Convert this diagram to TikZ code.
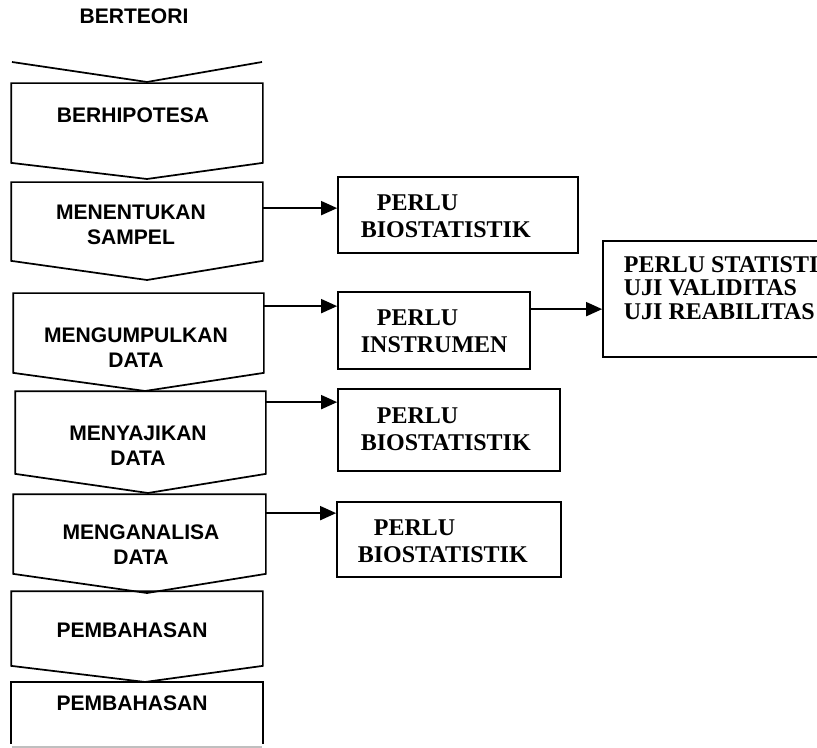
\documentclass[tikz,border=0pt]{standalone}
\usepackage{fontspec}
\setmainfont{Liberation Serif}
\newfontfamily\arialfont{Liberation Sans}
\usetikzlibrary{arrows.meta,positioning,fit,calc}

\begin{document}
\begin{tikzpicture}[x=0.75pt, y=-0.75pt, line width=1.3pt,
  steptext/.style={font=\arialfont\bfseries\fontsize{15.8}{18.75}\selectfont, align=center, inner sep=0pt},
  infotext/.style={font=\bfseries\fontsize{18}{20.5}\selectfont, align=left, inner sep=0pt, anchor=west},
  stepbox/.style={inner sep=0pt, draw=none},
  infobox/.style={draw, inner sep=0pt},
  arr/.style={-{Triangle[length=12pt,width=10.5pt]}}]

  \useasboundingbox (0,0) rectangle (817,748);

  % title and opening chevron
  \node[steptext] (teori) at (134,16) {BERTEORI};
  \draw (12,62) -- (147,82) -- (262,62);

  % left column: steps
  \node[stepbox, fit={(12,84) (262,162)}] (hipo) {};
  \draw (hipo.north west) -- (hipo.north east) -- (hipo.south east) -- (147,179) -- (hipo.south west) -- cycle;
  \node[steptext] (tHipo) at (133,115) {BERHIPOTESA};

  \node[stepbox, fit={(12,183) (262,260)}] (sampel) {};
  \draw (sampel.north west) -- (sampel.north east) -- (sampel.south east) -- (147,280) -- (sampel.south west) -- cycle;
  \node[steptext] (tSampel) at (131,224.5) {MENENTUKAN\\SAMPEL};

  \node[stepbox, fit={(14,294) (263,372)}] (kumpul) {};
  \draw (kumpul.north west) -- (kumpul.north east) -- (kumpul.south east) -- (145,391) -- (kumpul.south west) -- cycle;
  \node[steptext] (tKumpul) at (136,347.5) {MENGUMPULKAN\\DATA};

  \node[stepbox, fit={(16,392) (265,473)}] (saji) {};
  \draw (saji.north west) -- (saji.north east) -- (saji.south east) -- (148,493) -- (saji.south west) -- cycle;
  \node[steptext] (tSaji) at (138,445.5) {MENYAJIKAN\\DATA};

  \node[stepbox, fit={(14,495) (265,573)}] (analisa) {};
  \draw (analisa.north west) -- (analisa.north east) -- (analisa.south east) -- (147,593) -- (analisa.south west) -- cycle;
  \node[steptext] (tAnalisa) at (141,544.5) {MENGANALISA\\DATA};

  \node[stepbox, fit={(12,592) (262,665)}] (bahasA) {};
  \draw (bahasA.north west) -- (bahasA.north east) -- (bahasA.south east) -- (145,682) -- (bahasA.south west) -- cycle;
  \node[steptext] (tBahasA) at (132,630) {PEMBAHASAN};

  \node[stepbox, fit={(12,683) (262,743)}] (bahasB) {};
  \draw (bahasB.south west) -- (bahasB.north west) -- (bahasB.north east) -- (bahasB.south east);
  \draw[gray!50] (12,747) -- (262,747);
  \node[steptext] (tBahasB) at (132,703) {PEMBAHASAN};

  % right column: what each step needs
  \node[infobox, fit={(338,177) (578,253)}] (bioA) {};
  \node[infotext] (tBioA) at (360,216) {\hspace*{12pt}PERLU\\BIOSTATISTIK};

  \node[infobox, fit={(338,292) (530,369)}] (instr) {};
  \node[infotext] (tInstr) at (360,331) {\hspace*{12pt}PERLU\\INSTRUMEN};

  \node[infobox, fit={(603,241) (840,357)}] (stat) {};
  \node[infotext] (tStat) at (623,288)
    {PERLU STATISTIK\\[-3pt]UJI VALIDITAS\\[-3pt]UJI REABILITAS};

  \node[infobox, fit={(338,389) (560,471)}] (bioB) {};
  \node[infotext] (tBioB) at (360,429) {\hspace*{12pt}PERLU\\BIOSTATISTIK};

  \node[infobox, fit={(337,502) (561,577)}] (bioC) {};
  \node[infotext] (tBioC) at (357,541) {\hspace*{12pt}PERLU\\BIOSTATISTIK};

  % arrows
  \coordinate (inA) at ($(bioA.north west)+(0,32)$);
  \coordinate (inI) at ($(instr.north west)+(0,15)$);
  \coordinate (inS) at ($(stat.north west)+(0,69)$);
  \coordinate (inB) at ($(bioB.north west)+(0,14)$);
  \coordinate (inC) at ($(bioC.north west)+(0,12)$);
  \draw[arr] (sampel.east |- inA) -- (inA);
  \draw[arr] (kumpul.east |- inI) -- (inI);
  \draw[arr] (instr.east |- inS) -- (inS);
  \draw[arr] (saji.east |- inB) -- (inB);
  \draw[arr] (analisa.east |- inC) -- (inC);
\end{tikzpicture}
\end{document}
